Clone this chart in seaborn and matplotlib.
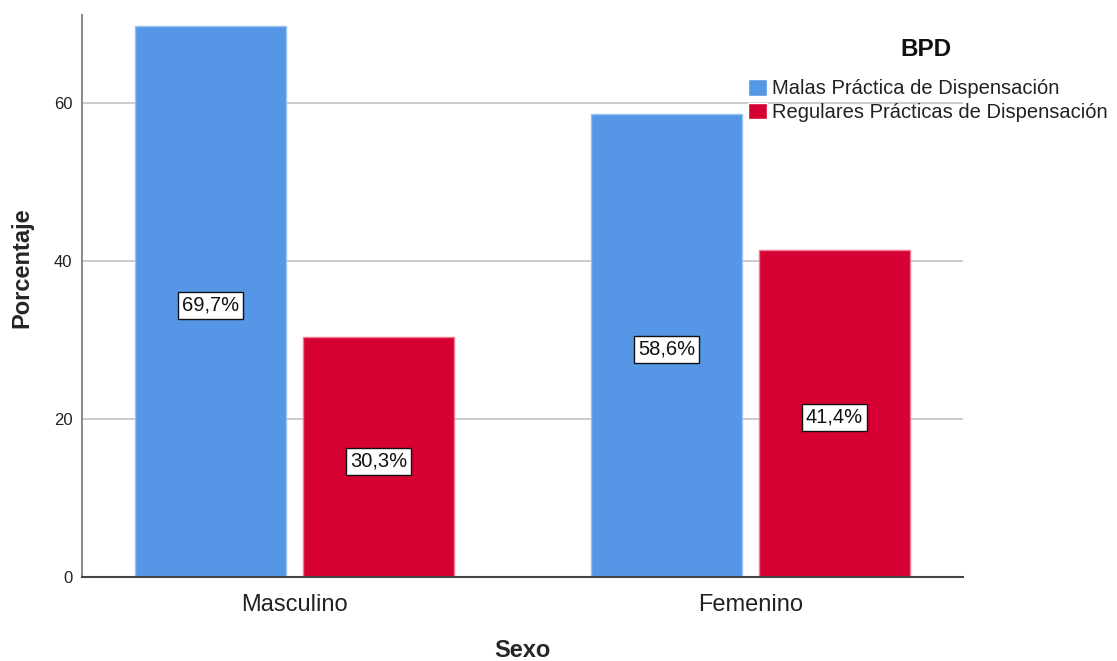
import matplotlib
matplotlib.use("Agg")
import matplotlib.pyplot as plt
import seaborn as sns
import pandas as pd

categories = ["Masculino", "Femenino"]
series_names = ["Malas Práctica de Dispensación", "Regulares Prácticas de Dispensación"]
malas = [69.7, 58.6]
regulares = [30.3, 41.4]
y_ticks = [0, 20, 40, 60]

rows = []
for i, c in enumerate(categories):
    rows.append({"Sexo": c, "BPD": series_names[0], "Porcentaje": malas[i]})
    rows.append({"Sexo": c, "BPD": series_names[1], "Porcentaje": regulares[i]})
df = pd.DataFrame(rows)

sns.set_theme(style="white")
plt.rcParams['font.family'] = ['Liberation Sans', 'DejaVu Sans']

W, H = 1117, 661
fig = plt.figure(figsize=(W / 100, H / 100), dpi=100)
ax = fig.add_axes([82 / W, 1 - 577 / H, (963 - 82) / W, (577 - 15) / H])

colors = ["#5596E6", "#D60032"]
edges = ["#9cc2f2", "#f07890"]
sns.barplot(data=df, x="Sexo", y="Porcentaje", hue="BPD", order=categories,
            hue_order=series_names, palette=colors, width=0.737, gap=0.1,
            saturation=1, ax=ax, zorder=2, linewidth=1)

for cont, ec in zip(ax.containers, edges):
    for p in cont.patches:
        p.set_edgecolor(ec)

# value labels
for cont in ax.containers:
    for p in cont.patches:
        h = p.get_height()
        x = p.get_x() + p.get_width() / 2
        ax.text(x, h / 2 - 0.5, f"{h:.1f}%".replace(".", ","), ha="center", va="center",
                fontsize=14.5, color="#111111", zorder=5,
                bbox=dict(boxstyle="square,pad=0.2", facecolor="white",
                          edgecolor="#111111", linewidth=1.0))

ax.set_xlim(-0.466, 1.466)
ax.set_ylim(0, 71.1)
ax.set_yticks(y_ticks)
ax.yaxis.grid(True, color="#c4c4c4", linewidth=1.2, zorder=0)
ax.set_axisbelow(True)
for s in ["top", "right"]:
    ax.spines[s].set_visible(False)
ax.spines["left"].set_color("#8c8c8c")
ax.spines["left"].set_linewidth(1.5)
ax.spines["bottom"].set_color("#444444")
ax.spines["bottom"].set_linewidth(1.5)
ax.tick_params(axis="y", length=0, pad=7, labelsize=12, labelcolor="#222222")
ax.tick_params(axis="x", length=0, pad=12, labelsize=17, labelcolor="#222222")

ax.set_xlabel("Sexo", fontsize=17, fontweight="bold", labelpad=17)
ax.set_ylabel("Porcentaje", fontsize=17, fontweight="bold")
ax.yaxis.set_label_coords(-0.0556, 0.55)

handles, labels = ax.get_legend_handles_labels()
ax.get_legend().remove()
fig.text(926 / W, 1 - 49 / H, "BPD", ha="center", va="center",
         fontsize=17.5, fontweight="bold", color="#111111")
leg = fig.legend(handles, labels, loc="upper left",
                 bbox_to_anchor=(748 / W, 1 - 79 / H), frameon=False,
                 fontsize=14.5, labelcolor="#222222",
                 handlelength=0.95, handleheight=0.9, handletextpad=0.25,
                 labelspacing=0.22, borderpad=0, borderaxespad=0)

fig.savefig("out.png", dpi=100)
